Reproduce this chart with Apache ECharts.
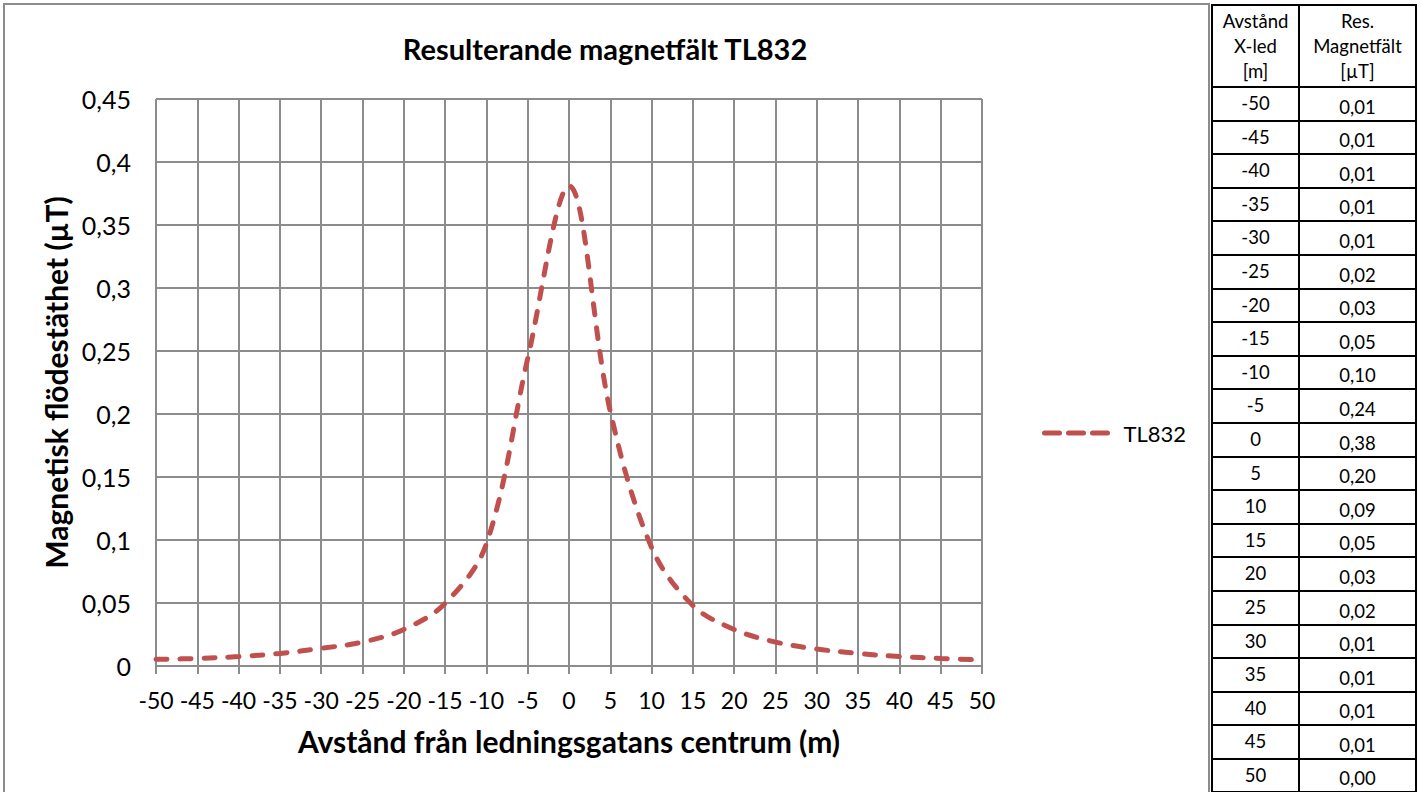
<!DOCTYPE html>
<html>
<head>
<meta charset="utf-8">
<script src="https://cdn.jsdelivr.net/npm/echarts@6/dist/echarts.min.js"></script>
<style>
  html, body { margin: 0; padding: 0; background: #fff; width: 1420px; height: 792px; overflow: hidden; font-family: Lato, "Open Sans", sans-serif; }
  #frame { position: absolute; left: 3px; top: 3px; width: 1203px; height: 800px; border: 2px solid #8c8c8c; box-sizing: content-box; }
  #chart { position: absolute; left: 0; top: 0; width: 1210px; height: 792px; }
  #tbl { position: absolute; left: 1211px; top: 4px; border-collapse: collapse; font-family: Lato, sans-serif; color: #000; }
  #tbl td { border: 2px solid #000; text-align: center; padding: 0; font-size: 18.5px; line-height: 22px; }
  #tbl tr.hdr td { height: 82px; line-height: 25px; vertical-align: middle; }
  #tbl tr.row td { height: 33.6px; }
  #tbl td.c1 { width: 87px; vertical-align: top; padding-top: 4px; box-sizing: border-box; }
  #tbl td.c2 { width: 117px; vertical-align: bottom; padding-bottom: 2px; box-sizing: border-box; }
</style>
</head>
<body>
<div id="frame"></div>
<div id="chart"></div>
<table id="tbl"></table>
<script>
// ---- data ----
const titleText = 'Resulterande magnetfält TL832';
const seriesName = 'TL832';
const xName = 'Avstånd från ledningsgatans centrum (m)';
const yName = 'Magnetisk flödestäthet (µT)';
const xValues = [-50, -45, -40, -35, -30, -25, -20, -15, -10, -5, 0, 5, 10, 15, 20, 25, 30, 35, 40, 45, 50];
const yValues = [0.0053, 0.006, 0.0075, 0.010, 0.014, 0.019, 0.029, 0.0497, 0.097, 0.244, 0.381, 0.202, 0.094, 0.048, 0.029, 0.019, 0.0135, 0.010, 0.0075, 0.006, 0.0048];
const tableHeader = [['Avstånd', 'X-led', '[m]'], ['Res.', 'Magnetfält', '[µT]']];
const tableX = ['-50', '-45', '-40', '-35', '-30', '-25', '-20', '-15', '-10', '-5', '0', '5', '10', '15', '20', '25', '30', '35', '40', '45', '50'];
const tableValues = ['0,01', '0,01', '0,01', '0,01', '0,01', '0,02', '0,03', '0,05', '0,10', '0,24', '0,38', '0,20', '0,09', '0,05', '0,03', '0,02', '0,01', '0,01', '0,01', '0,01', '0,00'];

// ---- table ----
const tbl = document.getElementById('tbl');
let html = '<tr class="hdr"><td class="c1" style="vertical-align:middle;padding:0;line-height:25px">' + tableHeader[0].join('<br>') +
           '</td><td class="c2" style="vertical-align:middle;padding:0;line-height:25px">' + tableHeader[1].join('<br>') + '</td></tr>';
for (let i = 0; i < tableX.length; i++) {
  html += '<tr class="row"><td class="c1">' + tableX[i] + '</td><td class="c2">' + tableValues[i] + '</td></tr>';
}
tbl.innerHTML = html;

// ---- chart ----
const chart = echarts.init(document.getElementById('chart'), null, { renderer: 'svg' });
const font = 'Lato, "Open Sans", sans-serif';
const gridColor = '#8c8c8c';
const lineColor = '#C0504D';
chart.setOption({
  animation: false,
  backgroundColor: 'transparent',
  title: {
    text: titleText,
    left: 'center',
    top: 29,
    textStyle: { fontFamily: font, fontSize: 29, fontWeight: 'bold', color: '#000' }
  },
  legend: {
    data: [seriesName],
    left: 1037,
    top: 417,
    itemWidth: 66,
    itemHeight: 14,
    itemStyle: { opacity: 0 },
    lineStyle: { color: lineColor, width: 5, type: [15, 9], cap: 'round' },
    textStyle: { fontFamily: font, fontSize: 22, color: '#000', padding: [0, 0, 0, 8] }
  },
  grid: { left: 156, top: 99, width: 826, height: 567 },
  xAxis: {
    type: 'value',
    min: -50, max: 50, interval: 5,
    name: xName,
    nameLocation: 'middle',
    nameGap: 60,
    nameTextStyle: { fontFamily: font, fontSize: 30, fontWeight: 'bold', color: '#000' },
    axisLine: { lineStyle: { color: gridColor, width: 2 } },
    axisTick: { show: true, length: 8, lineStyle: { color: gridColor, width: 2 } },
    axisLabel: { fontFamily: font, fontSize: 23, color: '#000', margin: 22 },
    splitLine: { show: true, lineStyle: { color: gridColor, width: 2 } }
  },
  yAxis: {
    type: 'value',
    min: 0, max: 0.45, interval: 0.05,
    name: yName,
    nameLocation: 'middle',
    nameGap: 80,
    nameTextStyle: { fontFamily: font, fontSize: 30, fontWeight: 'bold', color: '#000' },
    axisLine: { show: true, lineStyle: { color: gridColor, width: 2 } },
    axisTick: { show: true, length: 8, lineStyle: { color: gridColor, width: 2 } },
    axisLabel: {
      fontFamily: font, fontSize: 25, color: '#000', margin: 25,
      formatter: v => String(+v.toFixed(4)).replace('.', ',')
    },
    splitLine: { show: true, lineStyle: { color: gridColor, width: 2 } }
  },
  series: [{
    name: seriesName,
    type: 'line',
    data: xValues.map((x, i) => [x, yValues[i]]),
    smooth: 0.35,
    symbol: 'none',
    color: lineColor,
    lineStyle: { color: lineColor, width: 5, type: [11, 13], cap: 'round' }
  }]
});
</script>
</body>
</html>
